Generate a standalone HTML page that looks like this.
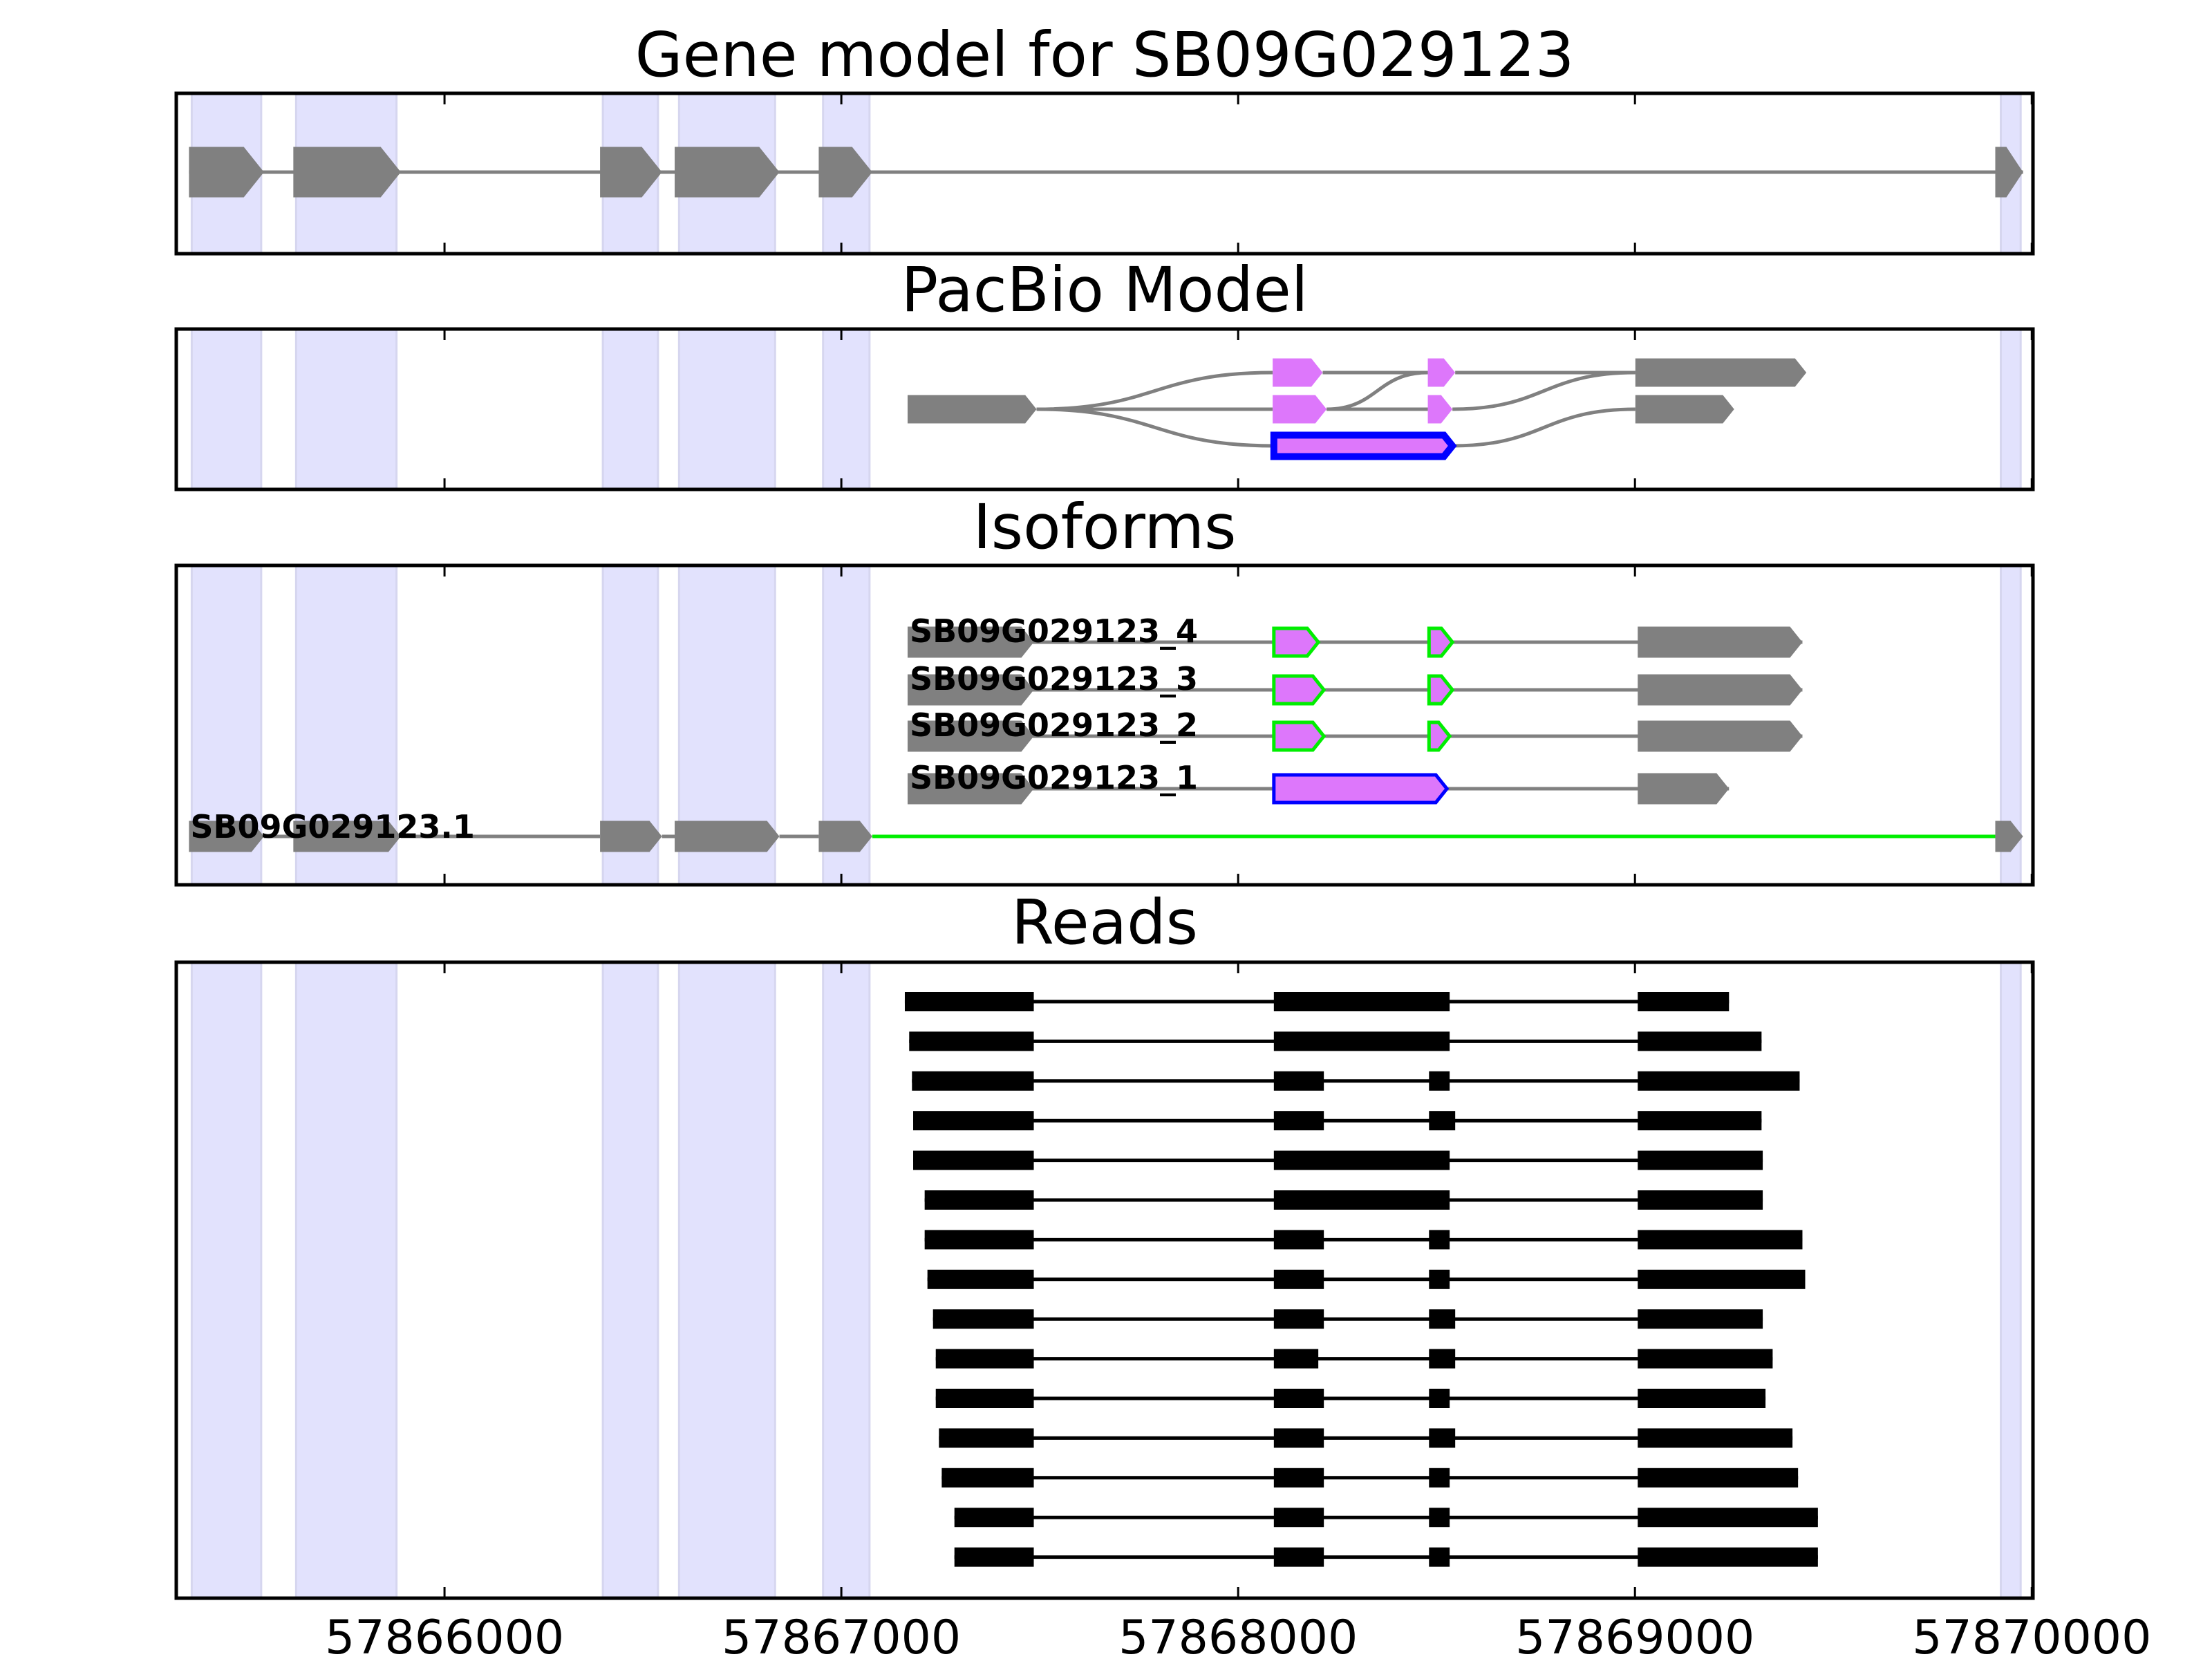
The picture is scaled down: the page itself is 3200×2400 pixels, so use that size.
<!DOCTYPE html>
<html><head><meta charset="utf-8"><style>
html,body{margin:0;padding:0;background:#fff;}
svg{display:block;font-family:"DejaVu Sans","Liberation Sans",sans-serif;}
</style></head><body>
<svg id="chart" xmlns="http://www.w3.org/2000/svg" width="3200" height="2400" viewBox="0 0 3200 2400">
<rect x="0" y="0" width="3200" height="2400" fill="#fff"/>
</svg>
<script>
// ---- data ----
const xDomain = [57865324, 57870003];
const xTicks = [57866000, 57867000, 57868000, 57869000, 57870000];
const shadeStarts = [57865363, 57865626, 57866399, 57866591, 57866954, 57869922];
const shadeEnds   = [57865538, 57865879, 57866538, 57866833, 57867071, 57869972];
const geneExonStarts = [57865356, 57865619, 57866392, 57866580, 57866943, 57869908];
const geneExonEnds   = [57865545, 57865890, 57866548, 57866844, 57867078, 57869978];
// PacBio model nodes
const pbStarts = [57867167, 57868087, 57868087, 57868090, 57868478, 57868478, 57869001, 57869001];
const pbEnds   = [57867492, 57868213, 57868223, 57868540, 57868547, 57868540, 57869432, 57869250];
const pbRows   = [1, 0, 1, 2, 0, 1, 0, 1];
const pbKinds  = ['gray','pink','pink','blue','pink','pink','gray','gray'];
const pbEdgeFrom = [0, 0, 0, 1, 2, 2, 4, 5, 3];
const pbEdgeTo   = [1, 2, 3, 4, 4, 5, 6, 6, 7];
// Isoforms
const isoNames = ['SB09G029123_4','SB09G029123_3','SB09G029123_2','SB09G029123_1'];
const isoExonStarts = [
 [57867167, 57868090, 57868481, 57869007],
 [57867167, 57868090, 57868481, 57869007],
 [57867167, 57868090, 57868481, 57869007],
 [57867167, 57868090, 57869007]];
const isoExonEnds = [
 [57867485, 57868202, 57868540, 57869422],
 [57867485, 57868216, 57868540, 57869422],
 [57867485, 57868216, 57868533, 57869422],
 [57867485, 57868526, 57869237]];
const isoExonKinds = [
 ['gray','pinkg','pinkg','gray'],['gray','pinkg','pinkg','gray'],['gray','pinkg','pinkg','gray'],['gray','blue','gray']];
// Reads
const readStarts = [57867160, 57867171, 57867178, 57867181, 57867181, 57867210, 57867210, 57867217, 57867231, 57867238, 57867238, 57867246, 57867253, 57867285, 57867285];
const readEx1End = 57867485;
const readLong = [1,1,0,0,1,1,0,0,0,0,0,0,0,0,0];
const readEx2Start = 57868090;
const readEx2Short = [57868216,57868216,57868216,57868216,57868216,57868216,57868216,57868216,57868216,57868202,57868216,57868216,57868216,57868216,57868216];
const readEx2Long = 57868533;
const readEx3Start = 57868481;
const readEx3End = [57868540,57868540,57868533,57868547,57868540,57868540,57868533,57868533,57868547,57868547,57868533,57868547,57868533,57868533,57868533];
const readEx4Start = 57869007;
const readEx4End = [57869237, 57869319, 57869415, 57869319, 57869322, 57869322, 57869422, 57869429, 57869322, 57869347, 57869329, 57869397, 57869411, 57869461, 57869461];

// ---- layout ----
const NS = 'http://www.w3.org/2000/svg';
const svg = document.getElementById('chart');
const AX0 = 255, AX1 = 2941;
const panels = [
 {name:'gene-model-panel', title:'Gene model for SB09G029123', top:135, bot:367, ty:78},
 {name:'pacbio-model-panel', title:'PacBio Model', top:476, bot:708, ty:418},
 {name:'isoforms-panel', title:'Isoforms', top:818, bot:1280, ty:761},
 {name:'reads-panel', title:'Reads', top:1392, bot:2312, ty:1333}];
function X(v){ return AX0 + (v - xDomain[0]) / (xDomain[1] - xDomain[0]) * (AX1 - AX0); }
function mk(tag, attrs, parent){
  const e = document.createElementNS(NS, tag);
  for (const k in attrs) e.setAttribute(k, attrs[k]);
  (parent || svg).appendChild(e);
  return e;
}
function arrow(parent, s, e, cy, h, fill, stroke, sw){
  const x0 = X(s), x1 = X(e);
  const tip = Math.min(h * 0.4, (x1 - x0) * 0.6);
  const pts = [[x0,cy-h/2],[x1-tip,cy-h/2],[x1,cy],[x1-tip,cy+h/2],[x0,cy+h/2]];
  return mk('polygon', {points: pts.map(p=>p.join(',')).join(' '), fill: fill, stroke: stroke||'none', 'stroke-width': sw||0, 'stroke-linejoin':'miter'}, parent);
}
const groups = [];
panels.forEach((P, i) => {
  const g = mk('g', {});
  
  
  groups.push(g);
  const t = mk('text', {x: (AX0+AX1)/2, y: P.ty + 32, 'font-size': 89, 'text-anchor': 'middle', fill: '#000'}, g);
  t.textContent = P.title;
  
  
  for (let k = 0; k < shadeStarts.length; k++) {
    const r = mk('rect', {x: X(shadeStarts[k]), y: P.top, width: X(shadeEnds[k]) - X(shadeStarts[k]), height: P.bot - P.top, fill: '#e2e2fd', stroke: '#d6d6ef', 'stroke-width': 3}, g);
    
    
  }
});
// panel 1 gene model
{
  const g = groups[0], cy = 249;
  mk('line', {x1: X(geneExonStarts[0]), x2: X(geneExonEnds[geneExonEnds.length-1]), y1: cy, y2: cy, stroke: '#808080', 'stroke-width': 5}, g);
  for (let k = 0; k < geneExonStarts.length; k++) {
    const a = arrow(g, geneExonStarts[k], geneExonEnds[k], cy, 73, '#808080');
    
    
  }
}
// panel 2 PacBio
{
  const g = groups[1];
  const rowY = [539, 592, 645], h = 41;
  for (let k = 0; k < pbEdgeFrom.length; k++) {
    const a = pbEdgeFrom[k], b = pbEdgeTo[k];
    const x0 = X(pbEnds[a]), y0 = rowY[pbRows[a]], x1 = X(pbStarts[b]), y1 = rowY[pbRows[b]];
    const mx = (x0 + x1) / 2;
    const p = mk('path', {d: `M${x0},${y0} C${mx},${y0} ${mx},${y1} ${x1},${y1}`, fill: 'none', stroke: '#808080', 'stroke-width': 5}, g);
    
    
  }
  for (let k = 0; k < pbStarts.length; k++) {
    const kind = pbKinds[k];
    let a;
    if (kind === 'gray') a = arrow(g, pbStarts[k], pbEnds[k], rowY[pbRows[k]], h, '#808080');
    else if (kind === 'pink') a = arrow(g, pbStarts[k], pbEnds[k], rowY[pbRows[k]], h, '#dd77fb');
    else a = arrow(g, pbStarts[k], pbEnds[k], rowY[pbRows[k]], h - 10, '#dd77fb', '#0000ff', 10);
    
    
  }
}
// panel 3 isoforms
{
  const g = groups[2];
  const rowY = [929, 998, 1065, 1141], h = 45;
  for (let r = 0; r < isoNames.length; r++) {
    const st = isoExonStarts[r], en = isoExonEnds[r], cy = rowY[r];
    mk('line', {x1: X(st[0]), x2: X(en[en.length-1]), y1: cy, y2: cy, stroke: '#808080', 'stroke-width': 5}, g);
    for (let k = 0; k < st.length; k++) {
      const kind = isoExonKinds[r][k];
      let a;
      if (kind === 'gray') a = arrow(g, st[k], en[k], cy, h, '#808080');
      else if (kind === 'pinkg') a = arrow(g, st[k], en[k], cy, h - 5, '#dd77fb', '#00ee00', 5);
      else a = arrow(g, st[k], en[k], cy, h - 5, '#dd77fb', '#0000ff', 5);
      
      
    }
    const t = mk('text', {x: X(st[0]) + 3, y: cy, 'font-size': 46, 'font-weight': 'bold', fill: '#000'}, g);
    t.textContent = isoNames[r];
    
    
  }
  const cy = 1210;
  for (let k = 0; k < geneExonStarts.length - 1; k++) {
    const green = (k === geneExonStarts.length - 2);
    mk('line', {x1: X(geneExonEnds[k]), x2: X(geneExonStarts[k+1]), y1: cy, y2: cy, stroke: green ? '#00ee00' : '#808080', 'stroke-width': 5}, g);
  }
  for (let k = 0; k < geneExonStarts.length; k++) {
    const a = arrow(g, geneExonStarts[k], geneExonEnds[k], cy, 45, '#808080');
    
    
  }
  const t = mk('text', {x: X(geneExonStarts[0]) + 2, y: cy + 2, 'font-size': 46, 'font-weight': 'bold', fill: '#000'}, g);
  t.textContent = 'SB09G029123.1';
  
  
}
// panel 4 reads
{
  const g = groups[3];
  const y0 = 1449, dy = 57.4, h = 28;
  for (let r = 0; r < readStarts.length; r++) {
    const cy = y0 + r * dy;
    const rg = mk('g', {}, g);
    
    
    mk('line', {x1: X(readStarts[r]), x2: X(readEx4End[r]), y1: cy, y2: cy, stroke: '#000', 'stroke-width': 5}, rg);
    const ex = [[readStarts[r], readEx1End]];
    if (readLong[r]) ex.push([readEx2Start, readEx2Long]);
    else { ex.push([readEx2Start, readEx2Short[r]]); ex.push([readEx3Start, readEx3End[r]]); }
    ex.push([readEx4Start, readEx4End[r]]);
    ex.forEach(e => {
      const rc = mk('rect', {x: X(e[0]), y: cy - h/2, width: X(e[1]) - X(e[0]), height: h, fill: '#000'}, rg);
      
      
    });
  }
}
// axes frames and ticks
panels.forEach((P, i) => {
  const g = groups[i];
  xTicks.forEach(v => {
    mk('line', {x1: X(v), x2: X(v), y1: P.top, y2: P.top + 16, stroke: '#000', 'stroke-width': 3}, g);
    mk('line', {x1: X(v), x2: X(v), y1: P.bot - 16, y2: P.bot, stroke: '#000', 'stroke-width': 3}, g);
  });
  const f = mk('rect', {x: AX0, y: P.top, width: AX1 - AX0, height: P.bot - P.top, fill: 'none', stroke: '#000', 'stroke-width': 5}, g);
  
  
});
xTicks.forEach(v => {
  const t = mk('text', {x: X(v), y: 2392, 'font-size': 68, 'text-anchor': 'middle', fill: '#000'});
  t.textContent = String(v);
  
  
});
</script>
</body></html>
